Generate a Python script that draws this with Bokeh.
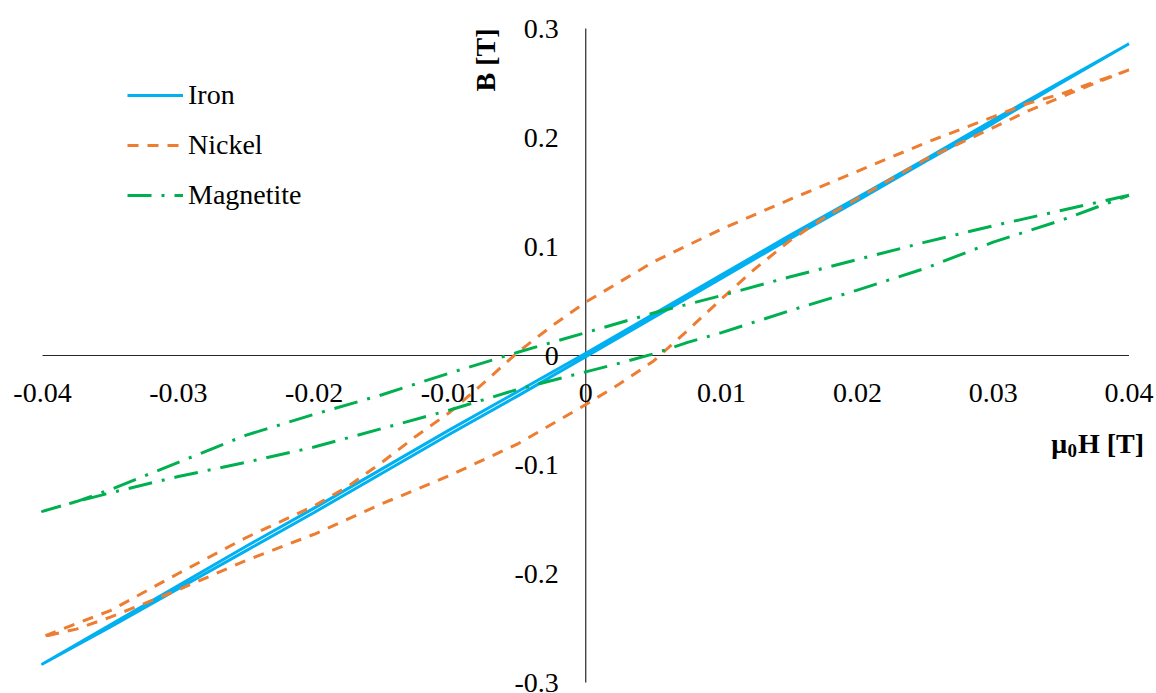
from bokeh.plotting import figure
from bokeh.models import (ColumnDataSource, LabelSet, Label, Legend, LegendItem, Range1d)
from bokeh.embed import file_html
from bokeh.resources import INLINE

# ---------------- data ----------------
iron_h_desc = [0.04, 0.035, 0.03, 0.025, 0.02, 0.015, 0.01, 0.005, 0.0,
               -0.005, -0.01, -0.015, -0.02, -0.025, -0.03, -0.035, -0.04]
iron_b_desc = [0.286, 0.251, 0.216, 0.180, 0.145, 0.110, 0.074, 0.038, 0.002,
               -0.033, -0.068, -0.104, -0.140, -0.175, -0.211, -0.247, -0.283]
iron_h_asc = [-0.04, -0.035, -0.03, -0.025, -0.02, -0.015, -0.01, -0.005, 0.0,
              0.005, 0.01, 0.015, 0.02, 0.025, 0.03, 0.035, 0.04]
iron_b_asc = [-0.283, -0.249, -0.214, -0.179, -0.144, -0.108, -0.072, -0.037, -0.001,
              0.035, 0.071, 0.107, 0.142, 0.178, 0.213, 0.250, 0.286]

nickel_h_desc = [0.04, 0.0375, 0.035, 0.0325, 0.03, 0.025, 0.02, 0.015, 0.01, 0.005, 0.0,
                 -0.0025, -0.005, -0.0075, -0.01, -0.0125, -0.015, -0.0175, -0.02,
                 -0.025, -0.03, -0.035, -0.0375, -0.04]
nickel_b_desc = [0.262, 0.251, 0.240, 0.231, 0.219, 0.195, 0.169, 0.143, 0.116, 0.086, 0.049,
                 0.027, 0.003, -0.025, -0.052, -0.074, -0.098, -0.120, -0.138,
                 -0.167, -0.200, -0.234, -0.246, -0.258]
nickel_h_asc = [-0.04, -0.0375, -0.035, -0.03, -0.025, -0.02, -0.015, -0.01, -0.005, 0.0,
                0.0025, 0.005, 0.0075, 0.01, 0.0125, 0.015, 0.0175, 0.02,
                0.025, 0.03, 0.0325, 0.035, 0.0375, 0.04]
nickel_b_asc = [-0.258, -0.251, -0.240, -0.215, -0.188, -0.164, -0.136, -0.110, -0.081, -0.045,
                -0.026, -0.005, 0.023, 0.052, 0.080, 0.105, 0.126, 0.144,
                0.180, 0.209, 0.224, 0.237, 0.250, 0.262]

magnetite_h_desc = [0.04, 0.035, 0.03, 0.025, 0.02, 0.015, 0.01, 0.005, 0.0,
                    -0.005, -0.01, -0.015, -0.02, -0.025, -0.03, -0.035, -0.0375, -0.04]
magnetite_b_desc = [0.147, 0.133, 0.119, 0.104, 0.088, 0.072, 0.055, 0.039, 0.021,
                    0.003, -0.016, -0.036, -0.054, -0.073, -0.098, -0.123, -0.134, -0.143]
magnetite_h_asc = [-0.04, -0.0375, -0.035, -0.03, -0.025, -0.02, -0.015, -0.01, -0.005, 0.0,
                   0.0025, 0.005, 0.0075, 0.01, 0.015, 0.02, 0.025, 0.03, 0.035, 0.04]
magnetite_b_asc = [-0.143, -0.134, -0.126, -0.111, -0.098, -0.084, -0.067, -0.050, -0.031, -0.015,
                   -0.007, 0.0015, 0.012, 0.021, 0.041, 0.060, 0.080, 0.104, 0.124, 0.147]

x_ticks = [-0.04, -0.03, -0.02, -0.01, 0.0, 0.01, 0.02, 0.03, 0.04]
x_tick_labels = ["-0.04", "-0.03", "-0.02", "-0.01", "0", "0.01", "0.02", "0.03", "0.04"]
y_ticks = [0.3, 0.2, 0.1, 0.0, -0.1, -0.2, -0.3]
y_tick_labels = ["0.3", "0.2", "0.1", "0", "-0.1", "-0.2", "-0.3"]

series_names = ["Iron", "Nickel", "Magnetite"]
x_title = "H [T]"
y_title = "B [T]"

# ---------------- layout ----------------
W, H = 1156, 693
# pixel position of the axis ends inside the canvas
AX_LEFT, AX_RIGHT, AX_TOP, AX_BOTTOM = 42.0, 1128.5, 28.0, 682.0
x_lo, x_hi = x_ticks[0], x_ticks[-1]
y_lo, y_hi = y_ticks[-1], y_ticks[0]
xs = (AX_RIGHT - AX_LEFT) / (x_hi - x_lo)
ys = (AX_BOTTOM - AX_TOP) / (y_hi - y_lo)
x_range = Range1d(x_lo - AX_LEFT / xs, x_hi + (W - AX_RIGHT) / xs)
y_range = Range1d(y_lo - (H - AX_BOTTOM) / ys, y_hi + AX_TOP / ys)

FONT = "Liberation Serif"
FS = "28px"
p = figure(width=W, height=H, output_backend="svg", toolbar_location=None,
           x_range=x_range, y_range=y_range,
           x_axis_location=None, y_axis_location=None, min_border=0)
p.grid.visible = False
p.outline_line_color = None
p.background_fill_color = "white"
p.border_fill_color = "white"

# axes crossing at the origin
p.segment(x0=[x_lo, 0.0], y0=[0.0, y_lo], x1=[x_hi, 0.0], y1=[0.0, y_hi],
          line_color="#262626", line_width=1.2)

iron = p.line(iron_h_desc + iron_h_asc, iron_b_desc + iron_b_asc,
              line_color="#00B0F0", line_width=3, line_join="round")
nickel = p.line(nickel_h_desc + nickel_h_asc, nickel_b_desc + nickel_b_asc,
                line_color="#ED7D31", line_width=3, line_dash="11 9", line_join="round")
magnetite = p.line(magnetite_h_desc + magnetite_h_asc, magnetite_b_desc + magnetite_b_asc,
                   line_color="#00B050", line_width=3, line_dash="24 10 3 10", line_join="round")

# tick labels
xsrc = ColumnDataSource(dict(x=x_ticks, y=[0.0] * len(x_ticks), t=x_tick_labels))
p.add_layout(LabelSet(x="x", y="y", text="t", source=xsrc, y_offset=-37,
                      text_align="center", text_baseline="middle",
                      text_font=FONT, text_font_size=FS, text_color="black"))
ysrc = ColumnDataSource(dict(x=[0.0] * len(y_ticks), y=y_ticks, t=y_tick_labels))
p.add_layout(LabelSet(x="x", y="y", text="t", source=ysrc, x_offset=-27,
                      text_align="right", text_baseline="middle",
                      text_font=FONT, text_font_size=FS, text_color="black"))

# axis titles
p.add_layout(Label(x=0.0, y=y_hi, x_offset=-100, text=y_title, angle=90, angle_units="deg",
                   text_align="right", text_baseline="middle", text_font=FONT,
                   text_font_size=FS, text_font_style="bold", text_color="black"))
p.add_layout(Label(x=x_hi, y=0.0, x_offset=15, y_offset=-88, text=x_title,
                   text_align="right", text_baseline="alphabetic", text_font=FONT,
                   text_font_size=FS, text_font_style="bold", text_color="black"))
p.add_layout(Label(x=x_hi, y=0.0, x_offset=-52, y_offset=-95, text="0",
                   text_align="right", text_baseline="alphabetic", text_font=FONT,
                   text_font_size="19px", text_font_style="bold", text_color="black"))
p.add_layout(Label(x=x_hi, y=0.0, x_offset=-62, y_offset=-88, text="\u03bc",
                   text_align="right", text_baseline="alphabetic", text_font=FONT,
                   text_font_size=FS, text_font_style="bold", text_color="black"))

legend = Legend(items=[LegendItem(label=series_names[0], renderers=[iron]),
                       LegendItem(label=series_names[1], renderers=[nickel]),
                       LegendItem(label=series_names[2], renderers=[magnetite])],
                location=(127, 478), orientation="vertical",
                glyph_width=56, glyph_height=40, label_height=40, spacing=10,
                label_standoff=5, padding=0, margin=0,
                border_line_color=None, background_fill_alpha=0,
                label_text_font=FONT, label_text_font_size=FS, label_text_color="black")
p.add_layout(legend)

open("out.html", "w").write(file_html(p, INLINE))
